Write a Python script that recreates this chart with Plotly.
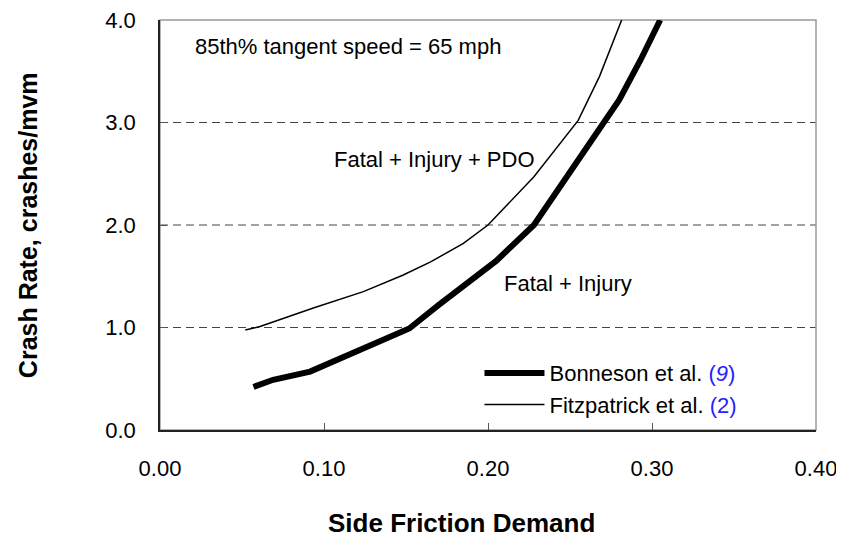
import plotly.graph_objects as go

# Bonneson et al. (9) - Fatal + Injury
bonn_x = [0.057, 0.069, 0.0915, 0.124, 0.152, 0.17, 0.185, 0.205, 0.228, 0.248, 0.268, 0.28, 0.293, 0.305]
bonn_y = [0.42, 0.49, 0.57, 0.80, 0.99, 1.22, 1.40, 1.65, 2.0, 2.47, 2.94, 3.22, 3.61, 4.0]

# Fitzpatrick et al. (2) - Fatal + Injury + PDO
fitz_x = [0.052, 0.061, 0.0935, 0.124, 0.148, 0.165, 0.185, 0.200, 0.228, 0.255, 0.268, 0.2815]
fitz_y = [0.976, 1.01, 1.19, 1.35, 1.51, 1.64, 1.82, 2.0, 2.47, 3.02, 3.45, 4.0]

x_ticks = [0.0, 0.1, 0.2, 0.3, 0.4]
y_ticks = [0.0, 1.0, 2.0, 3.0, 4.0]
grid_y = [1.0, 2.0, 3.0]

font = "Arial, Liberation Sans, sans-serif"

fig = go.Figure()
fig.add_trace(go.Scatter(x=bonn_x, y=bonn_y, mode="lines",
                         line=dict(color="black", width=6),
                         name="Bonneson et al. <span style='color:#1f1fff'>(<i>9</i>)</span>"))
fig.add_trace(go.Scatter(x=fitz_x, y=fitz_y, mode="lines",
                         line=dict(color="black", width=1.5),
                         name="Fitzpatrick et al. <span style='color:#1f1fff'>(2)</span>"))

# dashed horizontal gridlines
for g in grid_y:
    fig.add_shape(type="line", xref="x domain", yref="y", x0=0, x1=1, y0=g, y1=g,
                  line=dict(color="#444", width=1, dash="8px,5px"), layer="below")

# gray frame on top/right (paper refs so it isn't clipped)
fig.add_shape(type="rect", xref="paper", yref="paper", x0=0, x1=1, y0=0, y1=1,
              line=dict(color="#999", width=1.5), layer="below")

fig.add_annotation(x=0.0201, y=3.737, xref="x", yref="y", text="85th% tangent speed = 65 mph",
                   showarrow=False, xanchor="left", yanchor="middle",
                   font=dict(size=22, color="black", family=font))
fig.add_annotation(x=0.2299, y=2.64, xref="x", yref="y", text="Fatal + Injury + PDO",
                   showarrow=False, xanchor="right", yanchor="middle",
                   font=dict(size=22, color="black", family=font))
fig.add_annotation(x=0.2085, y=1.434, xref="x", yref="y", text="Fatal + Injury",
                   showarrow=False, xanchor="left", yanchor="middle",
                   font=dict(size=22, color="black", family=font))

# axis titles
fig.add_annotation(x=0.46, y=-0.227, xref="paper", yref="paper", text="<b>Side Friction Demand</b>",
                   showarrow=False, xanchor="center", yanchor="middle",
                   font=dict(size=26, color="black", family=font))
fig.add_annotation(x=-0.201, y=0.5, xref="paper", yref="paper", text="<b>Crash Rate, crashes/mvm</b>",
                   showarrow=False, textangle=-90, xanchor="center", yanchor="middle",
                   font=dict(size=25, color="black", family=font))

fig.update_xaxes(range=[0, 0.4], tickvals=x_ticks, ticktext=["%.2f" % v for v in x_ticks],
                 ticks="inside", ticklen=7, tickcolor="#555", showgrid=False, zeroline=False,
                 showline=True, linecolor="#222", linewidth=1.5, ticklabelstandoff=18,
                 automargin=False, ticklabeloverflow="allow",
                 tickfont=dict(size=22, color="black", family=font))
fig.update_yaxes(range=[0, 4], tickvals=y_ticks, ticktext=["%.1f" % v for v in y_ticks],
                 ticks="inside", ticklen=7, tickcolor="#555", showgrid=False, zeroline=False,
                 showline=True, linecolor="#222", linewidth=1.5, ticklabelstandoff=18,
                 automargin=False, ticklabeloverflow="allow",
                 tickfont=dict(size=22, color="black", family=font))

# page body adds ~8px offset, so margins are shifted accordingly
fig.update_layout(
    width=844, height=539,
    margin=dict(l=152, r=36, t=12, b=117),
    plot_bgcolor="white", paper_bgcolor="white",
    showlegend=True,
    legend=dict(x=0.487, y=0.19, xanchor="left", yanchor="top",
                bgcolor="rgba(0,0,0,0)", borderwidth=0, itemwidth=60,
                font=dict(size=22, color="black", family=font),
                tracegroupgap=0),
)

fig.write_html("out.html")
